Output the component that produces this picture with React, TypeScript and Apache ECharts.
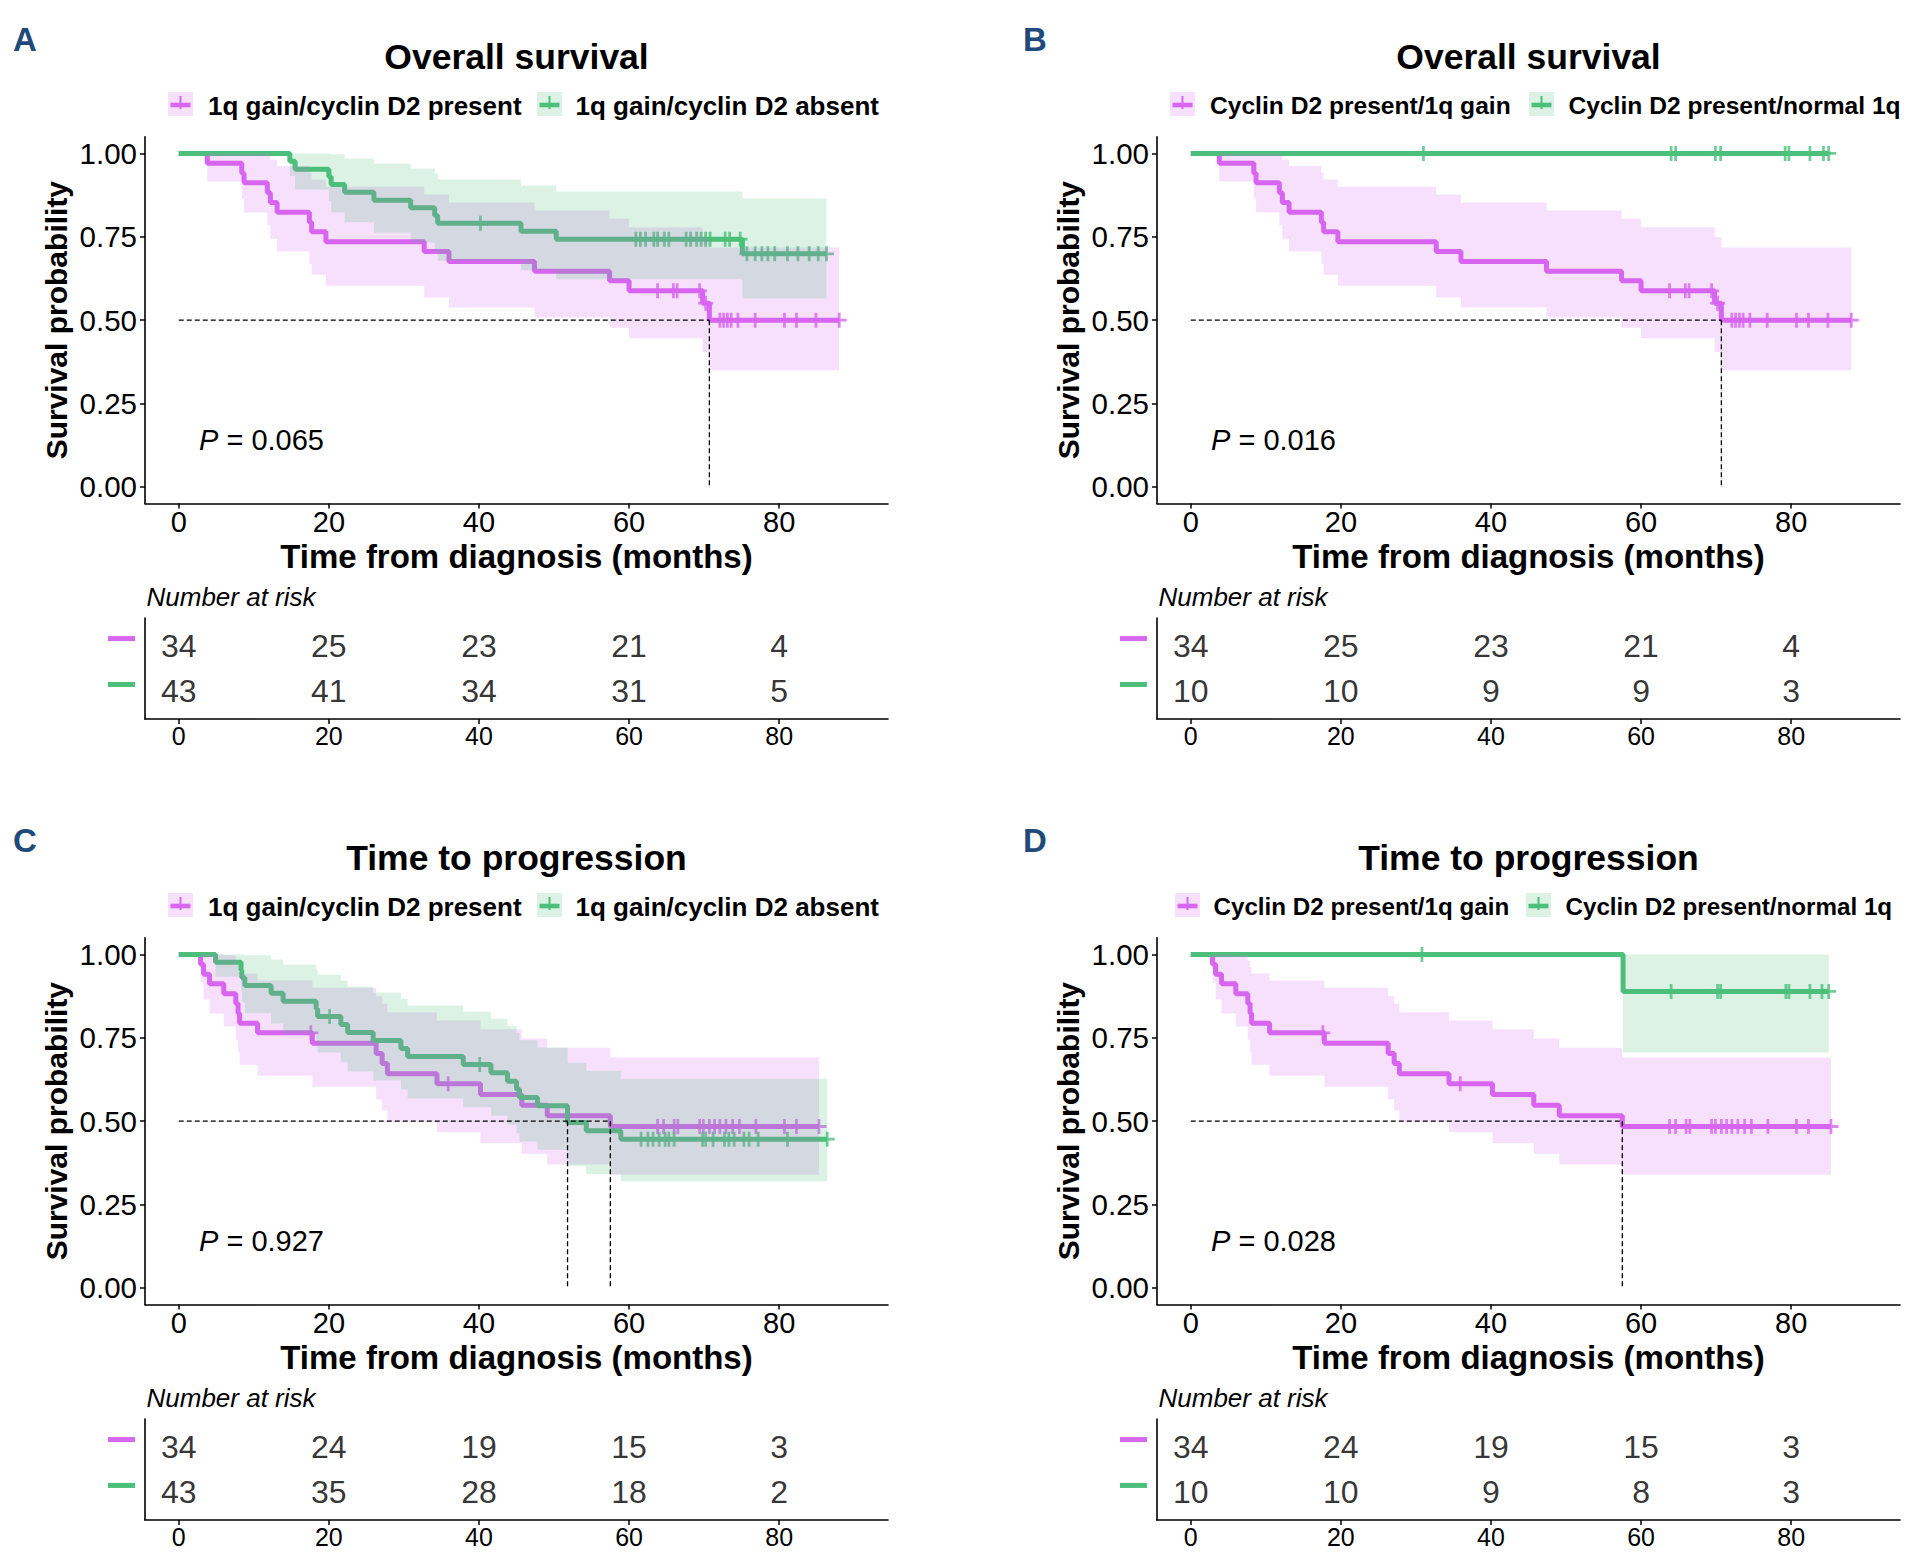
import React, { useEffect, useRef } from "react";
import * as echarts from "echarts";

// ---------------- data ----------------
const PURPLE = "#D766F0";
const GREEN = "#4CC07A";
const LETTER_COLOR = "#1F4A7C";
const FONT = "'Liberation Sans', Arial, Helvetica, sans-serif";

const X_TICKS = [0, 20, 40, 60, 80];
const Y_TICKS = [0, 0.25, 0.5, 0.75, 1];
const RISK_TIMES = [0, 20, 40, 60, 80];

// Overall survival, 1q gain / cyclin D2 present (n = 34)
const OS_GAIN_T = [0, 3.8, 8.4, 8.7, 11.8, 12.2, 13.1, 17.4, 17.7, 19.6, 32.7, 36.0, 47.4, 57.4, 60.0, 69.8, 70.7];
const OS_GAIN_S = [1, 0.971, 0.941, 0.912, 0.882, 0.853, 0.824, 0.794, 0.765, 0.735, 0.706, 0.676, 0.647, 0.618, 0.588, 0.551, 0.5];
const OS_GAIN_LO = [1, 0.916, 0.865, 0.823, 0.784, 0.744, 0.706, 0.669, 0.636, 0.603, 0.568, 0.538, 0.508, 0.477, 0.446, 0.404, 0.35];
const OS_GAIN_HI = [1, 1, 1, 1, 0.998, 0.981, 0.962, 0.943, 0.922, 0.9, 0.877, 0.853, 0.829, 0.804, 0.779, 0.749, 0.718];
const OS_GAIN_CENS = [63.8, 65.9, 66.4, 69.4, 70.2, 72.1, 72.6, 73.1, 73.6, 74.5, 76.8, 80.7, 82.3, 84.9, 88.0];
const OS_GAIN_END = 88.0;

// Overall survival, 1q gain / cyclin D2 absent (n = 43)
const OS_ABS_T = [0, 14.8, 15.5, 20.0, 20.3, 22.1, 26.0, 30.9, 34.1, 34.5, 45.6, 50.3, 75.1];
const OS_ABS_S = [1, 0.977, 0.953, 0.93, 0.907, 0.884, 0.86, 0.837, 0.814, 0.791, 0.767, 0.743, 0.699];
const OS_ABS_LO = [1, 0.933, 0.892, 0.857, 0.824, 0.794, 0.762, 0.733, 0.706, 0.678, 0.65, 0.623, 0.565];
const OS_ABS_HI = [1, 1, 1, 1, 0.998, 0.985, 0.97, 0.955, 0.939, 0.922, 0.904, 0.886, 0.865];
const OS_ABS_CENS = [40.2, 60.9, 61.5, 62.2, 63.3, 63.8, 64.7, 65.3, 67.6, 68.2, 69.0, 69.6, 70.2, 70.8, 72.8, 73.4, 74.8, 75.7, 76.8, 77.7, 78.5, 79.4, 81.1, 82.5, 84.0, 85.2, 86.3];
const OS_ABS_END = 86.3;

// Overall survival, cyclin D2 present / normal 1q (n = 10)
const OS_NORM_T = [0];
const OS_NORM_S = [1];
const OS_NORM_LO = [1];
const OS_NORM_HI = [1];
const OS_NORM_CENS = [31.0, 64.0, 64.6, 69.9, 70.6, 79.2, 79.7, 82.5, 84.3, 85.0];
const OS_NORM_END = 85.0;

// Time to progression, 1q gain / cyclin D2 present (n = 34)
const TTP_GAIN_T = [0, 2.9, 3.3, 4.1, 6.0, 7.6, 7.9, 8.1, 10.5, 17.8, 26.3, 27.1, 27.8, 34.4, 40.2, 45.7, 49.1, 57.5];
const TTP_GAIN_S = [1, 0.971, 0.941, 0.912, 0.882, 0.853, 0.824, 0.794, 0.765, 0.734, 0.703, 0.673, 0.642, 0.612, 0.58, 0.548, 0.516, 0.484];
const TTP_GAIN_LO = [1, 0.916, 0.865, 0.823, 0.784, 0.744, 0.706, 0.669, 0.636, 0.603, 0.565, 0.532, 0.498, 0.467, 0.434, 0.402, 0.37, 0.339];
const TTP_GAIN_HI = [1, 1, 1, 1, 0.998, 0.981, 0.962, 0.943, 0.922, 0.9, 0.875, 0.852, 0.827, 0.802, 0.776, 0.748, 0.72, 0.691];
const TTP_GAIN_CENS = [17.6, 35.9, 63.8, 64.6, 66.0, 66.5, 69.4, 69.9, 70.7, 71.4, 72.1, 72.9, 73.8, 74.7, 76.9, 80.7, 82.3, 85.3];
const TTP_GAIN_END = 85.3;

// Time to progression, 1q gain / cyclin D2 absent (n = 43)
const TTP_ABS_T = [0, 4.9, 8.3, 8.4, 8.8, 12.3, 13.9, 18.3, 18.5, 21.6, 22.5, 25.9, 29.6, 30.5, 37.9, 41.6, 43.8, 45.0, 45.4, 47.8, 51.8, 54.3, 58.9];
const TTP_ABS_S = [1, 0.977, 0.953, 0.93, 0.907, 0.884, 0.86, 0.837, 0.814, 0.79, 0.766, 0.742, 0.718, 0.694, 0.67, 0.645, 0.62, 0.596, 0.571, 0.546, 0.496, 0.471, 0.446];
const TTP_ABS_LO = [1, 0.933, 0.892, 0.857, 0.824, 0.793, 0.763, 0.733, 0.706, 0.677, 0.649, 0.622, 0.595, 0.568, 0.542, 0.516, 0.489, 0.464, 0.439, 0.414, 0.365, 0.341, 0.32];
const TTP_ABS_HI = [1, 1, 1, 1, 0.998, 0.985, 0.97, 0.955, 0.939, 0.922, 0.904, 0.886, 0.867, 0.847, 0.828, 0.807, 0.786, 0.765, 0.743, 0.721, 0.675, 0.651, 0.627];
const TTP_ABS_CENS = [20.1, 40.1, 61.6, 62.5, 63.2, 64.0, 64.8, 65.3, 66.0, 69.8, 70.2, 71.2, 72.7, 73.3, 74.0, 75.3, 76.0, 77.2, 81.1, 86.4];
const TTP_ABS_END = 86.4;

// Time to progression, cyclin D2 present / normal 1q (n = 10)
const TTP_NORM_T = [0, 57.6];
const TTP_NORM_S = [1, 0.889];
const TTP_NORM_LO = [1, 0.706];
const TTP_NORM_HI = [1, 1];
const TTP_NORM_CENS = [30.8, 64.0, 70.2, 70.6, 79.3, 79.7, 82.5, 84.1, 85.0];
const TTP_NORM_END = 85.0;

// Numbers at risk
const RISK_A_GAIN = [34, 25, 23, 21, 4];
const RISK_A_ABS = [43, 41, 34, 31, 5];
const RISK_B_GAIN = [34, 25, 23, 21, 4];
const RISK_B_NORM = [10, 10, 9, 9, 3];
const RISK_C_GAIN = [34, 24, 19, 15, 3];
const RISK_C_ABS = [43, 35, 28, 18, 2];
const RISK_D_GAIN = [34, 24, 19, 15, 3];
const RISK_D_NORM = [10, 10, 9, 8, 3];

const P_VALUES = ["0.065", "0.016", "0.927", "0.028"];
const TITLES = ["Overall survival", "Overall survival", "Time to progression", "Time to progression"];
const LETTERS = ["A", "B", "C", "D"];
const LEGEND_A = ["1q gain/cyclin D2 present", "1q gain/cyclin D2 absent"];
const LEGEND_B = ["Cyclin D2 present/1q gain", "Cyclin D2 present/normal 1q"];

// ---------------- helpers ----------------
type Curve = { t: number[]; s: number[]; lo: number[]; hi: number[]; cens: number[]; end: number; color: string };

const mk = (t: number[], s: number[], lo: number[], hi: number[], cens: number[], end: number, color: string): Curve => ({ t, s, lo, hi, cens, end, color });

const CURVES: Curve[][] = [
  [mk(OS_GAIN_T, OS_GAIN_S, OS_GAIN_LO, OS_GAIN_HI, OS_GAIN_CENS, OS_GAIN_END, PURPLE), mk(OS_ABS_T, OS_ABS_S, OS_ABS_LO, OS_ABS_HI, OS_ABS_CENS, OS_ABS_END, GREEN)],
  [mk(OS_GAIN_T, OS_GAIN_S, OS_GAIN_LO, OS_GAIN_HI, OS_GAIN_CENS, OS_GAIN_END, PURPLE), mk(OS_NORM_T, OS_NORM_S, OS_NORM_LO, OS_NORM_HI, OS_NORM_CENS, OS_NORM_END, GREEN)],
  [mk(TTP_GAIN_T, TTP_GAIN_S, TTP_GAIN_LO, TTP_GAIN_HI, TTP_GAIN_CENS, TTP_GAIN_END, PURPLE), mk(TTP_ABS_T, TTP_ABS_S, TTP_ABS_LO, TTP_ABS_HI, TTP_ABS_CENS, TTP_ABS_END, GREEN)],
  [mk(TTP_GAIN_T, TTP_GAIN_S, TTP_GAIN_LO, TTP_GAIN_HI, TTP_GAIN_CENS, TTP_GAIN_END, PURPLE), mk(TTP_NORM_T, TTP_NORM_S, TTP_NORM_LO, TTP_NORM_HI, TTP_NORM_CENS, TTP_NORM_END, GREEN)],
];
const RISKS = [
  [RISK_A_GAIN, RISK_A_ABS],
  [RISK_B_GAIN, RISK_B_NORM],
  [RISK_C_GAIN, RISK_C_ABS],
  [RISK_D_GAIN, RISK_D_NORM],
];
const LEGENDS = [LEGEND_A, LEGEND_B, LEGEND_A, LEGEND_B];

// layout (pixels)
const LAYOUT = {
  dx: [0, 1012, 0, 1012],
  dy: [0, 0, 801, 801],
  plotLeft: 145,
  plotTop: 136.8,
  plotW: 743,
  plotH: 366.7,
  tabTop: 618,
  tabH: 101,
  legendKeyX: [[168, 537], [1170, 1529], [168, 537], [1175, 1526]],
  legendTextX: [[208, 575.5], [1210, 1568.5], [208, 575.5], [1213.5, 1565.5]],
  legendFont: [26, 24.6, 26, 24.2],
};

const PLUS = "path://M-1.3,-7H1.3V-1.3H7V1.3H1.3V7H-1.3V1.3H-7V-1.3H-1.3Z";

function stepAt(t: number[], s: number[], x: number) {
  let v = s[0];
  for (let k = 0; k < t.length; k++) if (t[k] <= x) v = s[k];
  return v;
}
function hexA(hex: string, a: number) {
  const r = parseInt(hex.slice(1, 3), 16), g = parseInt(hex.slice(3, 5), 16), b = parseInt(hex.slice(5, 7), 16);
  return `rgba(${r},${g},${b},${a})`;
}

function buildOption() {
  const grid: any[] = [];
  const xAxis: any[] = [];
  const yAxis: any[] = [];
  const series: any[] = [];
  const graphic: any[] = [];
  const black = "#000";

  for (let i = 0; i < 4; i++) {
    const dx = LAYOUT.dx[i], dy = LAYOUT.dy[i];
    grid.push({ left: LAYOUT.plotLeft + dx, top: LAYOUT.plotTop + dy, width: LAYOUT.plotW, height: LAYOUT.plotH, outerBoundsMode: "none", containLabel: false });
  }
  for (let i = 0; i < 4; i++) {
    const dx = LAYOUT.dx[i], dy = LAYOUT.dy[i];
    grid.push({ left: LAYOUT.plotLeft + dx, top: LAYOUT.tabTop + dy, width: LAYOUT.plotW, height: LAYOUT.tabH, outerBoundsMode: "none", containLabel: false });
  }

  // plot axes
  for (let i = 0; i < 4; i++) {
    xAxis.push({
      gridIndex: i, type: "value", min: -4.5, max: 94.5,
      axisLine: { show: true, onZero: false, lineStyle: { color: black, width: 1.6 } },
      axisTick: { show: true, length: 5, lineStyle: { color: black, width: 1.5 }, customValues: X_TICKS },
      axisLabel: { customValues: X_TICKS, fontSize: 29, color: black, margin: 4, fontFamily: FONT },
      splitLine: { show: false },
      name: "Time from diagnosis (months)", nameLocation: "middle", nameGap: 36,
      nameTextStyle: { fontSize: 33, fontWeight: "bold", color: black, fontFamily: FONT },
    });
    yAxis.push({
      gridIndex: i, type: "value", min: -0.05, max: 1.05,
      axisLine: { show: true, onZero: false, lineStyle: { color: black, width: 1.6 } },
      axisTick: { show: true, length: 5, lineStyle: { color: black, width: 1.5 }, customValues: Y_TICKS },
      axisLabel: { customValues: Y_TICKS, fontSize: 29.5, color: black, margin: 8, fontFamily: FONT, formatter: (v: number) => Number(v).toFixed(2) },
      splitLine: { show: false },
      name: "Survival probability", nameLocation: "middle", nameRotate: 90, nameGap: 74,
      nameTextStyle: { fontSize: 30, fontWeight: "bold", color: black, fontFamily: FONT },
    });
  }
  // table axes: rows are strata 1 (top, purple) and 2 (bottom, green) on a value axis
  for (let i = 0; i < 4; i++) {
    xAxis.push({
      gridIndex: 4 + i, type: "value", min: -4.5, max: 94.5,
      axisLine: { show: true, onZero: false, lineStyle: { color: black, width: 1.6 } },
      axisTick: { show: true, length: 5, lineStyle: { color: black, width: 1.5 }, customValues: RISK_TIMES },
      axisLabel: { customValues: RISK_TIMES, fontSize: 25, color: black, margin: 4, fontFamily: FONT },
      splitLine: { show: false },
    });
    yAxis.push({
      gridIndex: 4 + i, type: "value", min: 0.4, max: 2.6, inverse: true,
      axisLine: { show: true, onZero: false, lineStyle: { color: black, width: 1.6 } },
      axisTick: { show: false },
      axisLabel: {
        customValues: [1, 2],
        margin: 10,
        padding: [0, 0, 14, 0],
        formatter: (v: number) => (Math.round(v) === 1 ? "{g0|}" : "{g1|}"),
        rich: {
          g0: { width: 27, height: 5, backgroundColor: PURPLE },
          g1: { width: 27, height: 5, backgroundColor: GREEN },
        },
      },
      splitLine: { show: false },
    });
  }

  for (let i = 0; i < 4; i++) {
    const curves = CURVES[i];
    // KM lines
    curves.forEach((c, ci) => {
      const pts = c.t.map((t, k) => [t, c.s[k]]);
      pts.push([c.end, c.s[c.s.length - 1]]);
      series.push({
        type: "line", name: `km${i}${ci}`, xAxisIndex: i, yAxisIndex: i, step: "end", symbol: "none",
        data: pts, lineStyle: { color: c.color, width: 5 }, z: 2, silent: true,
      });
    });
    // censor marks
    curves.forEach((c, ci) => {
      series.push({
        type: "scatter", name: `cens${i}${ci}`, xAxisIndex: i, yAxisIndex: i, symbol: PLUS, symbolSize: 15,
        itemStyle: { color: c.color }, data: c.cens.map((t) => [t, stepAt(c.t, c.s, t)]), z: 3, silent: true,
      });
    });
    // confidence bands (drawn on top, translucent), one step polygon per curve
    curves.forEach((c) => {
      const allOne = c.lo.every((v, k) => v === 1 && c.hi[k] === 1);
      if (allOne) return;
      const band = c.t.map((t, k) => [t, c.lo[k], c.hi[k]]);
      const end = c.end;
      const fill = hexA(c.color, 0.2);
      series.push({
        type: "custom", xAxisIndex: i, yAxisIndex: i, z: 4, silent: true,
        data: band,
        encode: { x: 0, y: [1, 2] },
        renderItem: (params: any, api: any) => {
          if (params.dataIndex !== 0) return null;
          const n = band.length;
          const up: number[][] = [];
          const dn: number[][] = [];
          for (let k = 0; k < n; k++) {
            const t0 = band[k][0];
            const t1 = k + 1 < n ? band[k + 1][0] : end;
            up.push(api.coord([t0, band[k][2]]), api.coord([t1, band[k][2]]));
            dn.push(api.coord([t0, band[k][1]]), api.coord([t1, band[k][1]]));
          }
          const points = up.concat(dn.reverse());
          return { type: "polygon", shape: { points }, style: { fill } };
        },
      });
    });
    // median lines
    const medians: number[] = [];
    curves.forEach((c) => {
      const k = c.s.findIndex((v) => v <= 0.5);
      if (k >= 0) medians.push(c.t[k]);
    });
    if (medians.length) {
      const mx = Math.max(...medians);
      series.push({
        type: "line", xAxisIndex: i, yAxisIndex: i, symbol: "none", data: [[0, 0.5], [mx, 0.5]],
        lineStyle: { color: black, width: 1.3, type: [5, 3] }, z: 5, silent: true,
      });
      medians.forEach((m) => {
        series.push({
          type: "line", xAxisIndex: i, yAxisIndex: i, symbol: "none", data: [[m, 0.5], [m, 0]],
          lineStyle: { color: black, width: 1.3, type: [5, 3] }, z: 5, silent: true,
        });
      });
    }
    // risk table numbers
    RISKS[i].forEach((arr, gi) => {
      series.push({
        type: "scatter", xAxisIndex: 4 + i, yAxisIndex: 4 + i, symbol: "circle", symbolSize: 1,
        itemStyle: { color: "rgba(0,0,0,0)" },
        data: RISK_TIMES.map((t, k) => [t, gi + 1, arr[k]]),
        label: { show: true, position: "inside", formatter: (p: any) => String(p.data[2]), fontSize: 32, color: black, fontFamily: FONT },
        silent: true,
      });
    });

    // graphics
    const dx = LAYOUT.dx[i], dy = LAYOUT.dy[i];
    const cx = LAYOUT.plotLeft + dx + LAYOUT.plotW / 2;
    graphic.push({
      type: "text", x: (i % 2 === 0 ? 13 : 1023), y: 39 + dy,
      style: { text: LETTERS[i], fontSize: 33, fontWeight: "bold", fontFamily: FONT, fill: LETTER_COLOR, align: "left", verticalAlign: "middle" },
    });
    graphic.push({
      type: "text", x: cx, y: 57 + dy,
      style: { text: TITLES[i], fontSize: 35.5, fontWeight: "bold", fontFamily: FONT, fill: black, align: "center", verticalAlign: "middle" },
    });
    // legend
    const cy = 104 + dy;
    curves.forEach((c, ci) => {
      const kx = LAYOUT.legendKeyX[i][ci];
      graphic.push({ type: "rect", shape: { x: kx, y: cy - 12, width: 25, height: 24 }, style: { fill: hexA(c.color, 0.2) } });
      graphic.push({ type: "rect", shape: { x: kx + 2.5, y: cy - 1.3, width: 20, height: 4.6 }, style: { fill: c.color } });
      graphic.push({ type: "rect", shape: { x: kx + 11.5, y: cy - 8, width: 2, height: 13 }, style: { fill: c.color } });
      graphic.push({
        type: "text", x: LAYOUT.legendTextX[i][ci], y: cy + 1.5,
        style: { text: LEGENDS[i][ci], fontSize: LAYOUT.legendFont[i], fontWeight: "bold", fontFamily: FONT, fill: black, align: "left", verticalAlign: "middle" },
      });
    });
    // p-value
    graphic.push({
      type: "text", x: 199 + dx, y: 440 + dy,
      style: {
        text: `{i|P}{n| = ${P_VALUES[i]}}`, verticalAlign: "middle", align: "left",
        rich: {
          i: { fontStyle: "italic", fontSize: 29, fontFamily: FONT, fill: black },
          n: { fontSize: 29, fontFamily: FONT, fill: black },
        },
      },
    });
    // number at risk
    graphic.push({
      type: "text", x: 146.5 + dx, y: 597 + dy,
      style: { text: "Number at risk", fontSize: 26, fontStyle: "italic", fontFamily: FONT, fill: black, align: "left", verticalAlign: "middle" },
    });
  }

  return { animation: false, backgroundColor: "#fff", grid, xAxis, yAxis, series, graphic };
}

export default function App() {
  const ref = useRef<HTMLDivElement>(null);
  useEffect(() => {
    document.body.style.margin = "0";
    const chart = echarts.init(ref.current!, null, { renderer: "svg" });
    chart.setOption(buildOption() as any);
    return () => chart.dispose();
  }, []);
  return <div ref={ref} style={{ width: 1915, height: 1566, background: "#fff" }} />;
}
